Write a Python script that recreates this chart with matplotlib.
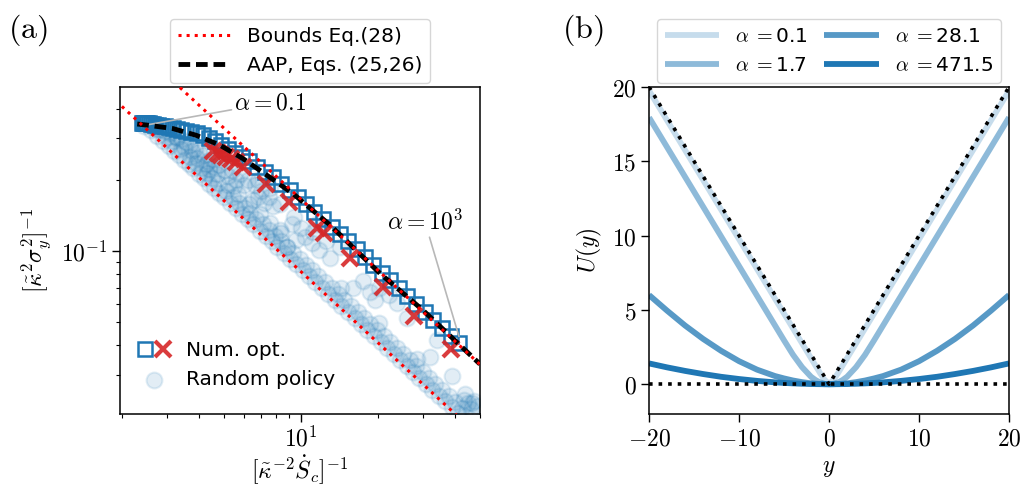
import numpy as np
import matplotlib
matplotlib.use('Agg')
import matplotlib.pyplot as plt
from matplotlib.ticker import FuncFormatter, NullFormatter, FixedLocator
from matplotlib.legend_handler import HandlerTuple

plt.rcParams['mathtext.fontset'] = 'cm'
plt.rcParams['font.size'] = 14

# ---------------- panel (a) data ----------------
# AAP curve, Eqs. (25,26)
aap_x = [2.3, 2.53, 3.17, 3.91, 4.83, 5.96, 7.35, 9.33, 13.0, 20.4, 30.0, 50.0]
aap_y = [0.345, 0.341, 0.330, 0.309, 0.281, 0.246, 0.210, 0.175, 0.129, 0.0804, 0.0562, 0.0333]

# bounds Eq.(28): two straight lines in log-log
upper_x = [3.2, 50.0]
upper_y = [0.519, 0.0332]
lower_x = [1.9, 50.0]
lower_y = [0.432, 0.0164]

# numerical optimum (squares)
sq_x = [2.40, 2.42, 2.44, 2.46, 2.49, 2.52, 2.56, 2.60, 2.65, 2.71, 2.78, 2.86, 2.95,
        3.05, 3.16, 3.28, 3.42, 3.57, 3.74, 3.93, 4.14, 4.37, 4.62, 4.90, 5.20, 5.53,
        5.90, 6.30, 6.75, 7.25, 7.80, 8.40, 9.05, 9.75, 10.5, 11.3, 12.2, 13.2, 14.2,
        15.3, 16.5, 17.8, 19.2, 20.7, 22.3, 24.1, 26.0, 28.1, 30.4, 32.9, 35.6, 38.5, 41.5]
sq_y = [0.350, 0.350, 0.349, 0.349, 0.348, 0.347, 0.347, 0.346, 0.345, 0.343, 0.341,
        0.339, 0.337, 0.335, 0.333, 0.330, 0.327, 0.323, 0.319, 0.315, 0.309, 0.300,
        0.291, 0.281, 0.271, 0.261, 0.251, 0.240, 0.228, 0.217, 0.205, 0.193, 0.181,
        0.170, 0.158, 0.147, 0.137, 0.127, 0.118, 0.110, 0.102, 0.0945, 0.0875, 0.0812,
        0.0754, 0.0699, 0.0648, 0.0600, 0.0555, 0.0513, 0.0474, 0.0438, 0.0408]

# numerical optimum (crosses)
cr_x = [4.55, 4.75, 4.9, 5.1, 5.35, 5.6, 5.95, 7.3, 9.0, 11.6, 12.3, 15.6, 21.0, 27.6, 38.5]
cr_y = [0.266, 0.260, 0.254, 0.250, 0.246, 0.238, 0.226, 0.193, 0.161, 0.125, 0.119,
        0.094, 0.0706, 0.0530, 0.0387]

# random policies
band_a_x = [2.45, 2.6, 2.75, 2.9, 3.05, 3.2, 3.35, 3.5, 3.65, 3.8, 4.0, 4.2, 4.4, 4.6,
            4.8, 5.0, 5.3, 5.6, 5.9, 6.2, 6.5, 6.9, 7.3, 7.7, 8.1, 8.6, 9.1, 9.6, 10.2,
            10.8, 11.4, 12.1, 12.8, 13.6, 14.4, 15.3, 16.2, 17.2, 18.2, 19.3, 20.5, 21.7,
            23.0, 24.4, 25.9, 27.4, 29.0, 30.8, 32.6, 34.5, 36.6, 38.8, 41.1, 43.6, 46.2, 49.0]
band_a_y = [0.340, 0.326, 0.306, 0.293, 0.279, 0.266, 0.256, 0.244, 0.234, 0.224, 0.213,
            0.203, 0.193, 0.185, 0.176, 0.170, 0.160, 0.152, 0.143, 0.137, 0.130, 0.122,
            0.116, 0.110, 0.104, 0.0985, 0.0930, 0.0880, 0.0830, 0.0782, 0.0742, 0.0700,
            0.0660, 0.0622, 0.0588, 0.0553, 0.0522, 0.0492, 0.0465, 0.0438, 0.0413, 0.0390,
            0.0368, 0.0347, 0.0327, 0.0309, 0.0292, 0.0275, 0.0260, 0.0245, 0.0232, 0.0219,
            0.0207, 0.0200, 0.0215, 0.0222]
band_b_x = [2.8, 3.0, 3.15, 3.4, 3.7, 3.9, 4.1, 4.3, 4.5, 4.75, 5.1, 5.45, 5.75, 6.05,
            6.35, 6.7, 7.1, 7.5, 7.9, 8.35, 8.85, 9.35, 9.9, 10.5, 11.1, 11.7, 12.4, 13.2,
            14.0, 14.8, 15.7, 16.7, 17.7, 18.7, 19.9, 21.1, 22.3, 23.7, 25.1, 26.6, 28.2,
            29.9, 31.7, 33.5, 35.5, 37.7, 40.0, 42.4, 45.0, 47.6]
band_b_y = [0.325, 0.305, 0.292, 0.270, 0.249, 0.236, 0.224, 0.214, 0.204, 0.194, 0.180,
            0.169, 0.160, 0.152, 0.145, 0.137, 0.130, 0.123, 0.116, 0.110, 0.104, 0.0985,
            0.0930, 0.0876, 0.0829, 0.0786, 0.0742, 0.0697, 0.0657, 0.0622, 0.0586, 0.0551,
            0.0520, 0.0492, 0.0462, 0.0436, 0.0413, 0.0388, 0.0367, 0.0346, 0.0326, 0.0308,
            0.0290, 0.0275, 0.0259, 0.0244, 0.0230, 0.0217, 0.0228, 0.0232]
band_c_x = [3.3, 3.75, 4.25, 4.7, 5.2, 5.7, 6.3, 6.9, 7.6, 8.4, 14.3, 20.2, 28.5, 43.5]
band_c_y = [0.300, 0.265, 0.234, 0.212, 0.191, 0.175, 0.158, 0.144, 0.131, 0.119, 0.070,
            0.0495, 0.0351, 0.0235]
cloud_x = [2.65, 2.8, 2.95, 3.1, 3.25, 3.4, 3.55, 3.5, 3.7, 3.85, 4.0, 4.2, 3.95, 4.35,
           4.5, 4.6, 4.8, 5.0, 4.4, 5.2,
           5.4, 5.6, 5.8, 6.0, 6.2, 6.6, 6.8, 7.0, 5.5, 6.5, 7.2, 7.5, 7.8, 8.3, 6.8, 7.6,
           8.3, 8.8, 9.6, 11.1, 11.8, 13.0, 14.2, 9.2, 10.0, 10.4, 11.2, 12.5, 9.4, 11.6,
           18.6, 23.7, 25.9, 17.5, 19.5, 20.2, 22.0, 16.0,
           31.9, 38.8, 43.7, 46.5, 34.0]
cloud_y = [0.335, 0.330, 0.322, 0.315, 0.305, 0.298, 0.290, 0.275, 0.280, 0.270, 0.262,
           0.255, 0.248, 0.240, 0.245, 0.228, 0.232, 0.220, 0.222, 0.208,
           0.220, 0.200, 0.212, 0.190, 0.200, 0.190, 0.170, 0.180, 0.188, 0.165, 0.160,
           0.170, 0.155, 0.158, 0.200, 0.185,
           0.123, 0.104, 0.112, 0.108, 0.101, 0.094, 0.104, 0.130, 0.125, 0.115, 0.120,
           0.110, 0.140, 0.130,
           0.067, 0.0602, 0.052, 0.075, 0.062, 0.070, 0.065, 0.070,
           0.0356, 0.0298, 0.0250, 0.0227, 0.042]

# ---------------- panel (b) data ----------------
y_half = [0, 0.5, 1, 1.5, 2, 3, 4, 5, 6, 8, 10, 12, 14, 16, 18, 20]
u_alpha = {
    '0.1':   [0.02, 0.3, 0.75, 1.25, 1.75, 2.75, 3.75, 4.75, 5.75, 7.75, 9.75, 11.75,
              13.75, 15.75, 17.75, 19.75],
    '1.7':   [0.0, 0.03, 0.12, 0.28, 0.5, 1.15, 1.98, 2.95, 3.95, 5.95, 7.95, 9.95,
              11.95, 13.95, 15.95, 17.95],
    '28.1':  [0.0, 0.004, 0.015, 0.035, 0.06, 0.14, 0.25, 0.39, 0.55, 0.98, 1.55, 2.25,
              3.05, 3.95, 4.95, 6.0],
    '471.5': [0.0, 0.001, 0.004, 0.008, 0.014, 0.032, 0.056, 0.088, 0.126, 0.224, 0.35,
              0.5, 0.686, 0.896, 1.134, 1.4],
}
alpha_shade = {'0.1': 0.25, '1.7': 0.5, '28.1': 0.75, '471.5': 1.0}
v_x = [-20, 0, 20]
v_y = [20, 0, 20]
zero_x = [-20, 20]
zero_y = [0, 0]

fig = plt.figure(figsize=(10.21, 4.87), dpi=100)
ax1 = fig.add_axes([0.1175, 0.150, 0.3526, 0.6715])
ax2 = fig.add_axes([0.6357, 0.150, 0.3526, 0.6715])

# ---------------- panel (a) ----------------
rnd_x = band_a_x + band_b_x + band_c_x + cloud_x
rnd_y = band_a_y + band_b_y + band_c_y + cloud_y
rnd = ax1.scatter(rnd_x, rnd_y, s=130, color='C0', alpha=0.13, linewidths=1.5, zorder=1)
sq, = ax1.plot(sq_x, sq_y, 's', ms=10, mfc='none', mec='C0', mew=1.8, zorder=2)
cr, = ax1.plot(cr_x, cr_y, 'x', ms=11, color='C3', mew=3, alpha=0.9, zorder=3)
aap, = ax1.plot(aap_x, aap_y, color='k', lw=3.5, dashes=(2.4, 1.2), zorder=4,
                label='AAP, Eqs. (25,26)')
bnd, = ax1.plot(upper_x, upper_y, ':', color='red', lw=2.2, zorder=5,
                label='Bounds Eq.(28)')
ax1.plot(lower_x, lower_y, ':', color='red', lw=2.2, zorder=5)

ax1.set_xscale('log')
ax1.set_yscale('log')
ax1.set_xlim(1.97, 50)
ax1.set_ylim(0.0205, 0.495)
ax1.xaxis.set_major_locator(FixedLocator([10]))
ax1.yaxis.set_major_locator(FixedLocator([0.1]))
ax1.xaxis.set_major_formatter(FuncFormatter(lambda v, p: r'$10^{%d}$' % round(np.log10(v))))
ax1.yaxis.set_major_formatter(FuncFormatter(lambda v, p: r'$10^{%d}$' % round(np.log10(v))))
ax1.xaxis.set_minor_formatter(NullFormatter())
ax1.yaxis.set_minor_formatter(NullFormatter())
ax1.set_xlabel(r'$[\tilde{\kappa}^{-2}\dot{S}_c]^{-1}$', fontsize=17, labelpad=1)
ax1.set_ylabel(r'$[\tilde{\kappa}^2\sigma_y^2]^{-1}$', fontsize=17, labelpad=6)

ax1.annotate(r'$\alpha=0.1$', xy=(2.55, 0.343), xytext=(5.5, 0.424), va='center',
             ha='left', fontsize=17,
             arrowprops=dict(arrowstyle='-', color='0.72', lw=1.2, shrinkA=0, shrinkB=0))
ax1.annotate(r'$\alpha=10^3$', xy=(41.4, 0.0436), xytext=(30.5, 0.133), va='center',
             ha='center', fontsize=17,
             arrowprops=dict(arrowstyle='-', color='0.72', lw=1.2, shrinkA=0, shrinkB=0))

leg1 = ax1.legend([bnd, aap], ['Bounds Eq.(28)', 'AAP, Eqs. (25,26)'], loc='lower center',
                  bbox_to_anchor=(0.5, 1.0), borderaxespad=0.2, fontsize=14.5,
                  handlelength=2.6)
ax1.add_artist(leg1)
ax1.legend([(sq, cr), rnd], ['Num. opt.', 'Random policy'], loc='lower left',
           bbox_to_anchor=(0.0, 0.02), frameon=False, fontsize=14.5, handlelength=1.6,
           handler_map={tuple: HandlerTuple(ndivide=None, pad=0.2)})

# ---------------- panel (b) ----------------
y_full = [-v for v in y_half[::-1]] + y_half[1:]
lines = []
for key in ['0.1', '1.7', '28.1', '471.5']:
    u_full = u_alpha[key][::-1] + u_alpha[key][1:]
    ln, = ax2.plot(y_full, u_full, color='C0', alpha=alpha_shade[key], lw=4.2,
                   solid_capstyle='butt', label=r'$\alpha\;=$' + key)
    lines.append(ln)
ax2.plot(v_x, v_y, ':', color='k', lw=2.6)
ax2.plot(zero_x, zero_y, ':', color='k', lw=2.6)
ax2.set_xlim(-20, 20)
ax2.set_ylim(-2, 20)
ax2.set_xticks([-20, -10, 0, 10, 20])
ax2.set_yticks([0, 5, 10, 15, 20])
ax2.xaxis.set_major_formatter(FuncFormatter(lambda v, p: r'$%d$' % v))
ax2.yaxis.set_major_formatter(FuncFormatter(lambda v, p: r'$%d$' % v))
ax2.set_xlabel(r'$y$', fontsize=17, labelpad=3)
ax2.set_ylabel(r'$U(y)$', fontsize=17, labelpad=6)
ax2.legend(handles=lines, loc='lower center', bbox_to_anchor=(0.5, 1.0), ncol=2,
           borderaxespad=0.2, fontsize=14.5, handlelength=2.7, columnspacing=0.8)

for ax in (ax1, ax2):
    ax.tick_params(which='major', direction='out', length=5.5, width=1.0, labelsize=17)
    ax.tick_params(which='minor', direction='out', length=3, width=0.8)
    for s in ax.spines.values():
        s.set_linewidth(1.1)

fig.text(0.008, 0.938, r'$\mathrm{(a)}$', fontsize=23, va='center')
fig.text(0.550, 0.938, r'$\mathrm{(b)}$', fontsize=23, va='center')

fig.savefig('out.png', dpi=100)
